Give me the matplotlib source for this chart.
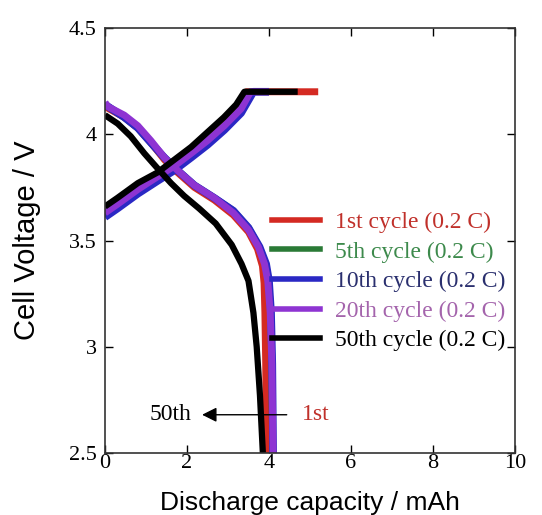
import numpy as np
import matplotlib
matplotlib.use('Agg')
import matplotlib.pyplot as plt
from matplotlib.lines import Line2D

# charge curves (capacity mAh, voltage V)
chg_x_black = [0, 0.3, 0.8, 1.28, 1.69, 2.1, 2.5, 2.9, 3.2, 3.4, 4.7]
chg_y_black = [3.66, 3.70, 3.77, 3.82, 3.88, 3.94, 4.01, 4.08, 4.14, 4.2, 4.2]
chg_x_red = [0, 0.3, 0.8, 1.28, 1.69, 2.1, 2.5, 2.9, 3.3, 3.45, 5.2]
chg_y_red = [3.64, 3.68, 3.75, 3.81, 3.86, 3.92, 3.99, 4.06, 4.14, 4.2, 4.2]
chg_x_green = [0, 0.3, 0.8, 1.28, 1.69, 2.1, 2.5, 2.91, 3.32, 3.55, 4.0]
chg_y_green = [3.63, 3.67, 3.74, 3.80, 3.85, 3.91, 3.97, 4.04, 4.12, 4.2, 4.2]
chg_x_blue = [0, 0.3, 0.8, 1.28, 1.69, 2.1, 2.5, 2.91, 3.32, 3.62, 4.0]
chg_y_blue = [3.61, 3.65, 3.72, 3.78, 3.83, 3.89, 3.95, 4.02, 4.10, 4.2, 4.2]
chg_x_purple = [0, 0.3, 0.8, 1.28, 1.69, 2.1, 2.5, 2.91, 3.32, 3.55, 4.0]
chg_y_purple = [3.63, 3.67, 3.74, 3.80, 3.85, 3.91, 3.97, 4.04, 4.12, 4.2, 4.2]

# discharge curves
dis_x_black = [0, 0.31, 0.63, 0.96, 1.28, 1.61, 1.93, 2.3, 2.7, 3.09, 3.33, 3.5, 3.62, 3.7, 3.78, 3.85]
dis_y_black = [4.09, 4.05, 3.99, 3.91, 3.84, 3.77, 3.71, 3.65, 3.58, 3.48, 3.39, 3.31, 3.16, 3.0, 2.77, 2.5]
dis_x_red = [0, 0.47, 0.8, 1.12, 1.45, 1.77, 2.18, 2.67, 3.13, 3.5, 3.72, 3.84, 3.88, 3.9, 3.92, 3.94]
dis_y_red = [4.13, 4.08, 4.03, 3.96, 3.88, 3.82, 3.75, 3.69, 3.62, 3.54, 3.46, 3.38, 3.30, 3.16, 2.92, 2.5]
dis_x_green = [0, 0.47, 0.8, 1.12, 1.45, 1.77, 2.18, 2.67, 3.13, 3.5, 3.76, 3.92, 3.99, 4.04, 4.07, 4.09]
dis_y_green = [4.14, 4.08, 4.03, 3.96, 3.89, 3.83, 3.76, 3.70, 3.64, 3.56, 3.47, 3.39, 3.31, 3.16, 2.92, 2.5]
dis_x_blue = [0, 0.47, 0.8, 1.12, 1.45, 1.77, 2.18, 2.67, 3.13, 3.5, 3.77, 3.93, 4.0, 4.05, 4.08, 4.1]
dis_y_blue = [4.14, 4.08, 4.03, 3.96, 3.89, 3.83, 3.76, 3.70, 3.64, 3.56, 3.47, 3.39, 3.31, 3.16, 2.92, 2.5]
dis_x_purple = [0, 0.07, 0.47, 0.8, 1.12, 1.45, 1.77, 2.18, 2.67, 3.13, 3.5, 3.74, 3.89, 3.97, 4.03, 4.07, 4.1]
dis_y_purple = [4.15, 4.13, 4.09, 4.04, 3.97, 3.89, 3.83, 3.76, 3.70, 3.63, 3.55, 3.47, 3.39, 3.31, 3.16, 2.92, 2.5]

labels = ['1st cycle (0.2 C)', '5th cycle (0.2 C)', '10th cycle (0.2 C)',
          '20th cycle (0.2 C)', '50th cycle (0.2 C)']
line_colors = ['#d42a22', '#2a7a36', '#2a28c4', '#8e34d2', '#000000']
text_colors = ['#c0302a', '#3d8a4c', '#2a2f6e', '#a464ac', '#000000']

curves = [
    (chg_x_red, chg_y_red, dis_x_red, dis_y_red, 5),
    (chg_x_green, chg_y_green, dis_x_green, dis_y_green, 5),
    (chg_x_blue, chg_y_blue, dis_x_blue, dis_y_blue, 5.5),
    (chg_x_purple, chg_y_purple, dis_x_purple, dis_y_purple, 5),
    (chg_x_black, chg_y_black, dis_x_black, dis_y_black, 4.5),
]

fig = plt.figure(figsize=(5.42, 5.15), dpi=100)
ax = fig.add_axes([0.1937, 0.1204, 0.7565, 0.8252])

for (cx, cy, dx, dy, lw), col in zip(curves, line_colors):
    ax.plot(cx, cy, color=col, lw=lw, solid_capstyle='butt', solid_joinstyle='round')
    ax.plot(dx, dy, color=col, lw=lw, solid_capstyle='butt', solid_joinstyle='round')

ax.set_xlim(0, 10)
ax.set_ylim(2.5, 4.5)
ax.set_xticks([0, 2, 4, 6, 8, 10])
ax.set_yticks([2.5, 3, 3.5, 4, 4.5])
ax.set_xticklabels(['0', '2', '4', '6', '8', '10'])
ax.set_yticklabels(['2.5', '3', '3.5', '4', '4.5'])
ax.tick_params(direction='in', length=6, width=1, top=True, right=True,
               labelsize=16)
ax.tick_params(axis='x', pad=1)
ax.tick_params(axis='y', pad=6)
for lab in ax.get_xticklabels() + ax.get_yticklabels():
    lab.set_family('Liberation Serif')
for sp in ax.spines.values():
    sp.set_linewidth(1.2)
    sp.set_color('#333333')

ax.set_xlabel('Discharge capacity / mAh', family='Liberation Sans', fontsize=19, labelpad=13)
ax.set_ylabel('Cell Voltage / V', family='Liberation Sans', fontsize=21, labelpad=20)

handles = [Line2D([], [], color=c, lw=4) for c in line_colors]
leg = ax.legend(handles, labels, loc='upper left', bbox_to_anchor=(0.407, 0.568),
                frameon=False, handlelength=2.05, handletextpad=0.62,
                labelspacing=0.34, borderaxespad=0, borderpad=0,
                prop={'family': 'Liberation Serif', 'size': 17})
for t, c in zip(leg.get_texts(), text_colors):
    t.set_color(c)

# arrow annotation
ax.annotate('', xy=(2.3, 2.68), xytext=(4.5, 2.68),
            arrowprops=dict(arrowstyle='-|>', color='black', lw=1, mutation_scale=22))
ax.text(2.12, 2.68, '50th', ha='right', va='center', fontsize=17,
        family='Liberation Serif', color='black')
ax.text(4.8, 2.68, '1st', ha='left', va='center', fontsize=17,
        family='Liberation Serif', color='#c0302a')

fig.savefig('out.png', dpi=100)
